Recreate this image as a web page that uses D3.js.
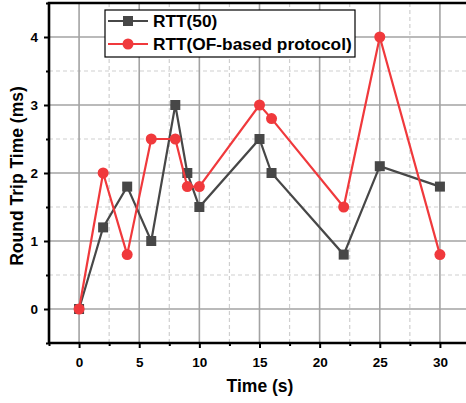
<!DOCTYPE html>
<html>
<head>
<meta charset="utf-8">
<script src="https://cdn.jsdelivr.net/npm/d3@7"></script>
<style>
  html, body { margin: 0; padding: 0; background: #fff; overflow: hidden; }
  svg { display: block; font-family: "Liberation Sans", Arial, sans-serif; }
</style>
</head>
<body>
<svg id="chart" width="466" height="403"></svg>
<script>
// Sample times (s) and round-trip times (ms) for both runs
const times = [0, 2, 4, 6, 8, 9, 10, 15, 16, 22, 25, 30];
const rtt50 = [0, 1.2, 1.8, 1.0, 3.0, 2.0, 1.5, 2.5, 2.0, 0.8, 2.1, 1.8];
const rttOF = [0, 2.0, 0.8, 2.5, 2.5, 1.8, 1.8, 3.0, 2.8, 1.5, 4.0, 0.8];
const seriesNames = ["RTT(50)", "RTT(OF-based protocol)"];
const xTicks = [0, 5, 10, 15, 20, 25, 30];
const xMinor = [-2.5, 2.5, 7.5, 12.5, 17.5, 22.5, 27.5, 32.5];
const yTicks = [0, 1, 2, 3, 4];
const yMinor = [-0.5, 0.5, 1.5, 2.5, 3.5, 4.5];

const svg = d3.select("#chart");
const mLeft = 49, mTop = 3, mBottom = 343, mRight = 470;

const x = d3.scaleLinear().domain([-2.5, 32.5]).range([mLeft, mRight]);
const y = d3.scaleLinear().domain([-0.5, 4.5]).range([mBottom, mTop]);

const plot = svg.append("g");

// minor grid (dashed)
plot.append("g").selectAll("line").data(xMinor).join("line")
  .attr("x1", d => x(d)).attr("x2", d => x(d)).attr("y1", mTop).attr("y2", mBottom)
  .attr("stroke", "#cfcfcf").attr("stroke-width", 1.2).attr("stroke-dasharray", "4,3");
plot.append("g").selectAll("line").data(yMinor).join("line")
  .attr("y1", d => y(d)).attr("y2", d => y(d)).attr("x1", mLeft).attr("x2", mRight)
  .attr("stroke", "#cfcfcf").attr("stroke-width", 1.2).attr("stroke-dasharray", "4,3");

// major grid
plot.append("g").selectAll("line").data(xTicks).join("line")
  .attr("x1", d => x(d)).attr("x2", d => x(d)).attr("y1", mTop).attr("y2", mBottom)
  .attr("stroke", "#a3a3a3").attr("stroke-width", 1.6);
plot.append("g").selectAll("line").data(yTicks).join("line")
  .attr("y1", d => y(d)).attr("y2", d => y(d)).attr("x1", mLeft).attr("x2", mRight)
  .attr("stroke", "#a3a3a3").attr("stroke-width", 1.6);

// axes
const xAxis = svg.append("g").attr("transform", `translate(0,${mBottom})`)
  .call(d3.axisBottom(x).tickValues(xTicks).tickSize(5).tickPadding(9).tickFormat(d3.format("d")));
const xAxisMinor = svg.append("g").attr("transform", `translate(0,${mBottom})`)
  .call(d3.axisBottom(x).tickValues(xMinor).tickSize(3).tickFormat(""));
const yAxis = svg.append("g").attr("transform", `translate(${mLeft},0)`)
  .call(d3.axisLeft(y).tickValues(yTicks).tickSize(5).tickPadding(6).tickFormat(d3.format("d")));
const yAxisMinor = svg.append("g").attr("transform", `translate(${mLeft},0)`)
  .call(d3.axisLeft(y).tickValues(yMinor).tickSize(3).tickFormat(""));

[xAxis, xAxisMinor, yAxis, yAxisMinor].forEach(g => {
  g.select(".domain").attr("stroke", "#000").attr("stroke-width", 2.6);
  g.selectAll(".tick line").attr("stroke", "#000").attr("stroke-width", 2);
  g.selectAll(".tick text").attr("fill", "#000").attr("font-size", 13.5).attr("font-weight", "bold")
    .attr("font-family", "'Liberation Sans', Arial, sans-serif");
});
xAxis.select(".domain").attr("d", `M${mLeft},0H${mRight}`);
xAxisMinor.select(".domain").remove();
yAxis.select(".domain").attr("d", `M0,${mBottom}V${mTop}`);
yAxisMinor.select(".domain").remove();

// top frame
svg.append("line").attr("x1", mLeft - 1.3).attr("x2", mRight).attr("y1", mTop).attr("y2", mTop)
  .attr("stroke", "#000").attr("stroke-width", 2.6);

// series
const colors = ["#474747", "#f0393c"];
const line = d3.line().x(d => x(d[0])).y(d => y(d[1]));
const data50 = times.map((t, i) => [t, rtt50[i]]);
const dataOF = times.map((t, i) => [t, rttOF[i]]);

svg.append("path").datum(data50).attr("d", line)
  .attr("fill", "none").attr("stroke", colors[0]).attr("stroke-width", 2.2);
svg.append("g").selectAll("rect").data(data50).join("rect")
  .attr("x", d => x(d[0]) - 5).attr("y", d => y(d[1]) - 5)
  .attr("width", 10).attr("height", 10).attr("fill", colors[0]);

svg.append("path").datum(dataOF).attr("d", line)
  .attr("fill", "none").attr("stroke", colors[1]).attr("stroke-width", 2.2);
svg.append("g").selectAll("circle").data(dataOF).join("circle")
  .attr("cx", d => x(d[0])).attr("cy", d => y(d[1])).attr("r", 5.5).attr("fill", colors[1]);

// legend
const legend = svg.append("g");
legend.append("rect").attr("x", 105).attr("y", 10).attr("width", 250).attr("height", 47)
  .attr("fill", "#fff").attr("stroke", "#000").attr("stroke-width", 1.2);
seriesNames.forEach((name, i) => {
  const ly = 21 + i * 23;
  legend.append("line").attr("x1", 108).attr("x2", 148).attr("y1", ly).attr("y2", ly)
    .attr("stroke", colors[i]).attr("stroke-width", 2.2);
  if (i === 0) {
    legend.append("rect").attr("x", 123).attr("y", ly - 5).attr("width", 10).attr("height", 10)
      .attr("fill", colors[i]);
  } else {
    legend.append("circle").attr("cx", 128).attr("cy", ly).attr("r", 5.5).attr("fill", colors[i]);
  }
  legend.append("text").attr("x", 153).attr("y", ly + 6).text(name)
    .attr("font-size", 17.3).attr("font-weight", "bold").attr("fill", "#000");
});

// axis titles
svg.append("text").attr("x", 260).attr("y", 392).attr("text-anchor", "middle")
  .attr("font-size", 17.5).attr("font-weight", "bold").text("Time (s)");
svg.append("text").attr("transform", "translate(23,176) rotate(-90)").attr("text-anchor", "middle")
  .attr("font-size", 17.5).attr("font-weight", "bold").text("Round Trip Time (ms)");
</script>
</body>
</html>
